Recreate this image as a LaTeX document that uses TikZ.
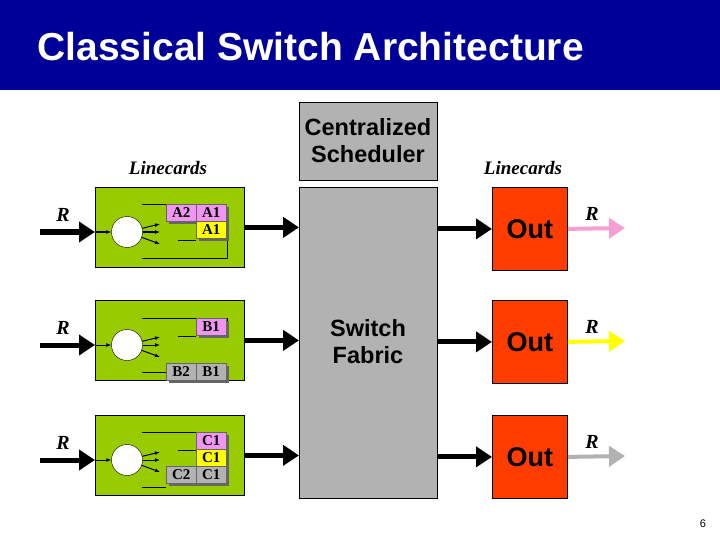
\documentclass[tikz,border=0pt]{standalone}
\usepackage{fontspec}
\setmainfont{Liberation Serif}
\newfontfamily\arialf{Liberation Sans}
\usetikzlibrary{arrows.meta}
\definecolor{navy}{RGB}{0,0,153}
\definecolor{cardgreen}{RGB}{153,204,0}
\definecolor{fabgray}{RGB}{178,178,178}
\definecolor{outred}{RGB}{255,60,0}
\definecolor{qpink}{RGB}{240,150,240}
\definecolor{qyellow}{RGB}{255,255,0}
\definecolor{qgray}{RGB}{178,178,178}
\definecolor{pinkarrow}{RGB}{245,160,210}
\begin{document}
\begin{tikzpicture}[x=1pt,y=-1pt,
  card/.style={draw=black,fill=cardgreen,line width=0.8pt},
  big/.style={draw=black,fill=fabgray,line width=0.8pt},
  outb/.style={draw=black,fill=outred,line width=0.8pt},
  fat/.style={line width=5pt,-{Triangle[length=16pt,width=20pt]}},
  thinar/.style={line width=1pt,-{Latex[length=5pt,width=4pt]}},
  qlab/.style={font=\fontsize{15}{15}\selectfont\bfseries},
  rlab/.style={font=\fontsize{20}{20}\selectfont\bfseries\itshape},
  sans/.style={font=\arialf\fontsize{23.5}{27}\selectfont\bfseries}]
\useasboundingbox (0,0) rectangle (720,540);
\fill[white] (0,0) rectangle (720,540);
% title
\fill[navy] (0,0) rectangle (720,90);
\node[anchor=west,text=white,font=\arialf\fontsize{39}{39}\selectfont\bfseries] (title) at (34,47) {Classical Switch Architecture};
% center
\node[big,minimum width=138pt,minimum height=78pt,anchor=north west,inner sep=0] (sched) at (299,102) {};
\node[sans,align=center] (schedt) at (368,141) {Centralized\\Scheduler};
\node[big,minimum width=138pt,minimum height=311pt,anchor=north west,inner sep=0] (fab) at (299,187) {};
\node[sans,align=center] (fabt) at (368,342) {Switch\\Fabric};
\node[font=\fontsize{19}{19}\selectfont\itshape\bfseries] (lc1) at (168,168) {Linecards};
\node[font=\fontsize{19}{19}\selectfont\itshape\bfseries] (lc2) at (523,168) {Linecards};
% rows
\foreach \i/\t/\c in {1/187/pinkarrow,2/300/qyellow,3/415/qgray}{
  \pgfmathsetmacro{\m}{\t+41}
  \node[card,minimum width=149pt,minimum height=80pt,anchor=north west,inner sep=0] (c\i) at (95,\t) {};
  \node[outb,minimum width=75pt,minimum height=83pt,anchor=north west,inner sep=0] (o\i) at (492,\t) {};
  \node[font=\arialf\fontsize{27}{27}\selectfont\bfseries] (ot\i) at (o\i) {Out};
  \coordinate (ci\i) at (40,\m+4);
  \node[rlab] (ri\i) at (63,\m-13) {R};
  \node[circle,draw=black,fill=white,minimum size=31pt,inner sep=0] (k\i) at (127,\m+4) {};
  \coordinate (kin\i) at (95,\m+4);
  \draw[fat] (ci\i) -- (kin\i);
  \draw[thinar] (kin\i) -- (k\i);
  \coordinate (t1\i) at (160,\m-4);
  \coordinate (t2\i) at (160,\m+4);
  \coordinate (t3\i) at (160,\m+16);
  \draw[thinar] (k\i) -- (t1\i);
  \draw[thinar] (k\i) -- (t2\i);
  \draw[thinar] (k\i) -- (t3\i);
  \coordinate (fi\i) at (fab.west |- c\i.east);
  \draw[fat] (c\i.east) -- (fi\i);
  \coordinate (fo\i) at (fab.east |- o\i.west);
  \draw[fat] (fo\i) -- (o\i.west);
  \coordinate (oe\i) at (625,\m);
  \draw[draw=\c,line width=4pt,-{Triangle[length=16pt,width=20pt,fill=\c]}] (o\i.east) -- (oe\i);
  \node[rlab] (ro\i) at (592,\m-14) {R};
}
% queue boxes helper
\newcommand\qbox[4]{% x, y, color, text
  \fill[black!60] (#1+3,#2+3) rectangle ++(30,17);
  \node[draw=black!60,fill=#3,minimum width=30pt,minimum height=17pt,anchor=north west,inner sep=0,qlab] at (#1,#2) {#4};}
% card 1
\draw (142,204) -- (166,204);
\draw (178,240) -- (196,240);
\draw (142,258) -- (227,258) -- (227,238);
\qbox{166}{204}{qpink}{A2}
\qbox{196}{204}{qpink}{A1}
\qbox{196}{221}{qyellow}{A1}
% card 2
\draw (142,318) -- (227,318) -- (227,335);
\draw (178,336) -- (196,336);
\draw (142,372) -- (166,372);
\qbox{196}{318}{qpink}{B1}
\qbox{166}{363}{qgray}{B2}
\qbox{196}{363}{qgray}{B1}
% card 3
\draw (142,432) -- (196,432);
\draw (178,450) -- (196,450);
\draw (142,487) -- (166,487);
\qbox{196}{432}{qpink}{C1}
\qbox{196}{449}{qyellow}{C1}
\qbox{166}{466}{qgray}{C2}
\qbox{196}{466}{qgray}{C1}
\node[font=\arialf\fontsize{11}{11}\selectfont] (pg) at (703,524) {6};
\end{tikzpicture}
\end{document}
